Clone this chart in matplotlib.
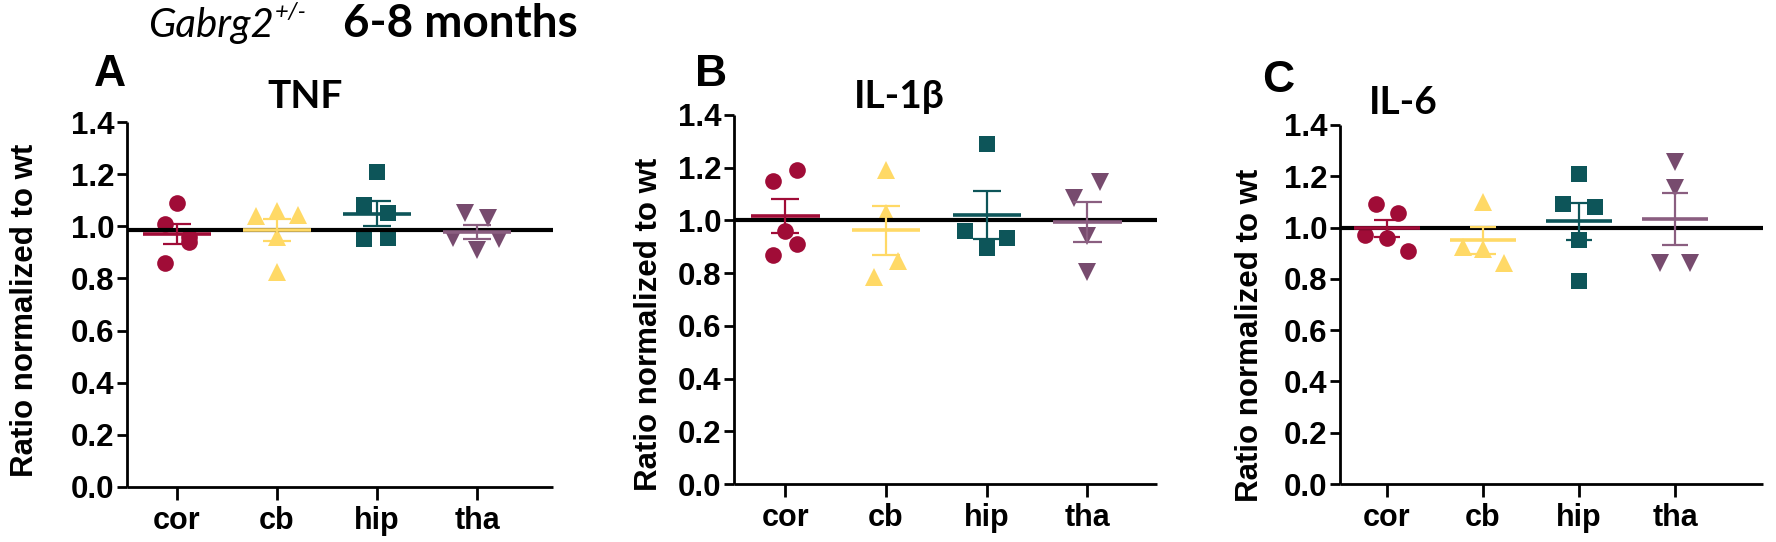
import matplotlib
matplotlib.use("Agg")
import matplotlib.pyplot as plt
import numpy as np

# ---------------- data ----------------
regions = ["cor", "cb", "hip", "tha"]
panel_letters = ["A", "B", "C"]
panel_titles = ["TNF", "IL-1β", "IL-6"]
wt_level = [0.985, 1.0, 1.0]

tnf_cor = [1.09, 1.01, 0.96, 0.94, 0.86]
tnf_cb = [1.04, 1.06, 1.045, 0.96, 0.825]
tnf_hip = [1.21, 1.08, 1.05, 0.95, 0.955]
tnf_tha = [1.05, 1.03, 0.955, 0.91, 0.95]

il1b_cor = [1.15, 1.19, 0.96, 0.91, 0.87]
il1b_cb = [1.19, 1.03, 0.845, 0.785]
il1b_hip = [1.29, 0.96, 0.895, 0.935]
il1b_tha = [1.145, 1.085, 0.94, 0.805]

il6_cor = [1.09, 1.055, 0.97, 0.96, 0.91]
il6_cb = [1.10, 0.925, 0.915, 0.86]
il6_hip = [1.21, 1.09, 1.08, 0.95, 0.79]
il6_tha = [1.255, 1.155, 0.86, 0.86]

panels_data = [
    [tnf_cor, tnf_cb, tnf_hip, tnf_tha],
    [il1b_cor, il1b_cb, il1b_hip, il1b_tha],
    [il6_cor, il6_cb, il6_hip, il6_tha],
]

# horizontal scatter offsets (layout only, category units)
jitter = [
    [[0, -0.12, 0.12, 0.12, -0.12], [-0.21, 0, 0.21, 0, 0],
     [0, -0.13, 0.11, -0.13, 0.11], [-0.12, 0.11, -0.24, 0, 0.22]],
    [[-0.12, 0.12, 0, 0.12, -0.12], [0, 0, 0.12, -0.12],
     [0, -0.22, 0, 0.2], [0.12, -0.13, 0, 0]],
    [[-0.115, 0.11, -0.23, 0, 0.22], [0, -0.21, 0, 0.22],
     [0, -0.17, 0.17, 0, 0], [0, 0, -0.16, 0.16]],
]

# ---------------- style ----------------
colors = ["#A00C37", "#FFD966", "#0D5559", "#774B6E"]
err_colors = ["#A00C37", "#FFD966", "#0D5559", "#8A5E80"]
markers = ["o", "^", "s", "v"]
msizes = [12, 12.5, 12, 12.5]

W, H = 1776, 542
fig = plt.figure(figsize=(W / 100, H / 100), dpi=100)

# pixel geometry: (axis-left px, xlim, px per unit, y of 0, y of 1.4)
geo = [
    (127, (-0.5, 3.76), 100.0, 487, 122),
    (734, (-0.51, 3.69), 100.7, 484, 115),
    (1340, (-0.49, 3.92), 96.0, 484, 125),
]
ylabel_pos = [(25, 310), (649, 324), (1250, 335)]

arial = ["Liberation Sans", "DejaVu Sans"]
title_font = ["Lato", "DejaVu Sans"]

for p in range(3):
    left, xl, ppu, y0, y14 = geo[p]
    width = (xl[1] - xl[0]) * ppu
    ax = fig.add_axes([left / W, 1 - y0 / H, width / W, (y0 - y14) / H])
    ax.set_xlim(*xl)
    ax.set_ylim(0, 1.4)
    for s in ["top", "right"]:
        ax.spines[s].set_visible(False)
    for s in ["left", "bottom"]:
        ax.spines[s].set_linewidth(2.0)
        ax.spines[s].set_color("black")
        ax.spines[s].set_capstyle("butt")
    ticks = np.arange(0, 1.41, 0.2)
    ax.set_yticks(ticks)
    ax.set_yticklabels([f"{v:.1f}" for v in ticks], family=arial, weight="bold", fontsize=22.5)
    ax.set_xticks(range(len(regions)))
    ax.set_xticklabels(regions, family=arial, weight="bold", fontsize=22)
    ax.tick_params(axis="y", length=7, width=2.0, pad=2)
    ax.tick_params(axis="x", length=9, width=2.0, pad=5)
    ax.patch.set_alpha(0)

    for i, vals in enumerate(panels_data[p]):
        v = np.array(vals)
        xs = i + np.array(jitter[p][i])
        ax.plot(xs, v, linestyle="none", marker=markers[i], color=colors[i],
                markersize=msizes[i], markeredgewidth=0, zorder=3, clip_on=False)
        m = v.mean()
        sem = v.std(ddof=1) / np.sqrt(len(v))
        ec = err_colors[i]
        ax.hlines(m, i - 0.34, i + 0.34, color=ec, linewidth=2.6, zorder=5)
        ax.vlines(i, m - sem, m + sem, color=ec, linewidth=1.6, zorder=5)
        ax.hlines([m - sem, m + sem], i - 0.14, i + 0.14, color=ec, linewidth=1.6, zorder=5)

    ax.hlines(wt_level[p], xl[0], xl[1], color="black", linewidth=3.0, zorder=4)

    fig.text(ylabel_pos[p][0] / W, 1 - ylabel_pos[p][1] / H, "Ratio normalized to wt",
             rotation=90, ha="center", va="center", fontsize=22.5, family=arial, weight="bold")

# panel letters and titles
letter_pos = [(110, 74), (711, 74), (1278, 80)]
title_pos = [(305, 96), (899, 96), (1403, 102)]
for p in range(3):
    fig.text(letter_pos[p][0] / W, 1 - letter_pos[p][1] / H, panel_letters[p],
             ha="center", va="center", fontsize=32, weight="bold", family=arial)
    fig.text(title_pos[p][0] / W, 1 - title_pos[p][1] / H, panel_titles[p],
             ha="center", va="center", fontsize=28, weight="bold", family=title_font)

# header
g = fig.text(148 / W, 1 - 37 / H, "Gabrg2", ha="left", va="baseline",
             fontsize=29, style="italic", family=title_font)
fig.canvas.draw()
bb = g.get_window_extent(fig.canvas.get_renderer())
fig.text((bb.x1 + 1) / W, 1 - 19 / H, "+/-", ha="left", va="baseline",
         fontsize=17, style="italic", family=title_font)
fig.text(343 / W, 1 - 37 / H, "6-8 months", ha="left", va="baseline",
         fontsize=33, weight="bold", family=title_font)

fig.savefig("out.png", dpi=100)
